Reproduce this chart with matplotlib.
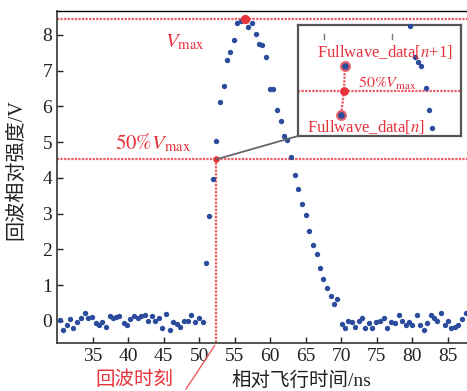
import numpy as np
import matplotlib
matplotlib.use("Agg")
import matplotlib.pyplot as plt
from matplotlib.patches import ConnectionPatch

plt.rcParams['font.family'] = ['Liberation Serif', 'Noto Sans CJK SC']
plt.rcParams['mathtext.fontset'] = 'stix'

#Sample times (ns) and echo voltage (V)
times = [30.41, 30.83, 31.35, 31.82, 32.29, 32.85, 33.31, 33.88, 34.34, 34.91,
         35.42, 35.89, 36.36, 36.92, 37.39, 37.90, 38.32, 38.79, 39.40, 39.87,
         40.34, 40.81, 41.37, 41.84, 42.35, 42.77, 43.38, 43.85, 44.32, 44.78,
         45.35, 45.86, 46.33, 46.89, 47.36, 47.82, 48.39, 48.90, 49.47, 49.93, 50.50,
         51.00, 51.43, 51.95, 52.40, 52.98, 53.44, 53.90, 54.38, 54.85, 55.40,
         55.87, 56.45, 56.95, 57.40, 57.97, 58.40, 58.85, 59.40, 60.00, 60.40,
         60.90, 61.50, 61.97, 62.43, 62.95, 63.50, 63.97, 64.44, 65.06, 65.50,
         66.00, 66.56, 67.00, 67.50, 68.05, 68.50, 69.00, 69.45,
         70.07, 70.53, 71.00, 71.56, 72.00, 72.50, 72.97, 73.40, 73.90, 74.40,
         74.90, 75.45, 76.00, 76.50, 76.95, 77.56, 78.10, 78.60, 79.10, 79.57,
         80.00, 80.60, 81.10, 81.60, 82.10, 82.57, 83.00, 83.50, 84.00, 84.60,
         85.00, 85.50, 85.97, 86.45, 87.00, 87.50]
volts = [0.03, -0.27, -0.11, 0.05, -0.20, -0.02, 0.07, 0.22, 0.07, 0.10,
         -0.07, -0.11, -0.03, -0.16, 0.14, 0.07, 0.12, 0.14, -0.07, -0.11,
         0.04, 0.14, 0.07, 0.14, 0.17, 0.00, 0.14, 0.00, 0.07, -0.20,
         0.19, -0.27, -0.02, -0.09, -0.18, 0.00, 0.00, 0.17, -0.02, 0.07, -0.02,
         1.62, 2.94, 3.98, 5.04, 6.12, 6.56, 7.31, 7.53, 7.85, 8.34,
         8.39, 8.45, 8.22, 8.34, 8.03, 7.76, 7.73, 7.38, 6.50, 6.50,
         5.91, 5.58, 5.16, 5.05, 4.58, 4.09, 3.69, 3.27, 2.95, 2.50,
         2.13, 1.88, 1.47, 1.17, 0.92, 0.70, 0.48, 0.62,
         -0.09, -0.19, 0.00, -0.02, -0.16, 0.00, 0.07, -0.19, -0.07, -0.21,
         -0.04, 0.00, 0.07, -0.19, -0.02, -0.05, 0.17, 0.00, -0.11, -0.02,
         -0.11, 0.15, -0.11, -0.25, -0.05, 0.15, 0.07, 0.00, 0.23, -0.11,
         0.00, -0.19, -0.16, -0.11, 0.05, 0.23]

v_half = 4.52      #50% Vmax level
t_half = 52.42     #echo time

xticks = [35, 40, 45, 50, 55, 60, 65, 70, 75, 80, 85]
yticks = [0, 1, 2, 3, 4, 5, 6, 7, 8]

#Inset (magnified sketch), in its own 0-100 units
in_pts_x = [28.8, 26.4]          #Fullwave_data[n+1], Fullwave_data[n]
in_pts_y = [63.1, 18.9]
in_mid = (28.2, 40.5)            #interpolated 50% point
in_dots_x = [68.7, 71.8, 73.4, 75.5, 78.3, 80.6, 82.0]
in_dots_y = [99.0, 71.4, 66.9, 63.3, 43.5, 23.4, 7.5]
in_marks_x = [16.0, 57.7]

blue = '#2b4c9c'
red = '#e8323c'
redline = '#ee5a64'

W, H = 467, 391
fig = plt.figure(figsize=(W / 100, H / 100), dpi=100)
ax = fig.add_axes([57 / W, 1 - 343 / H, 410 / W, 332 / H])

t = np.array(times)
v = np.array(volts)
ipk = int(np.argmax(v))
vmax = v[ipk]

ax.scatter(t, v, s=15, color=blue, zorder=3, linewidths=0)
ax.scatter([t[ipk]], [vmax], s=45, color=red, zorder=4, linewidths=0)
ax.scatter([t_half], [v_half], s=22, color=red, zorder=4, linewidths=0)

dot = (0, (1, 0.6))
ax.axhline(vmax, color=redline, lw=1.6, ls=dot, zorder=2)
ax.axhline(v_half, color=redline, lw=1.6, ls=dot, zorder=2)
ax.plot([t_half, t_half], [v_half, -0.62], color=redline, lw=1.6, ls=dot, zorder=2)

ax.set_xlim(30.0, 87.7)
ax.set_ylim(-0.62, 8.67)
ax.set_xticks(xticks)
ax.set_yticks(yticks)
ax.tick_params(direction='in', length=4, width=1, labelsize=14, colors='#222222')
ax.spines['right'].set_visible(False)
for s in ['left', 'bottom']:
    ax.spines[s].set_linewidth(1.3)
    ax.spines[s].set_color('#444444')
ax.spines['top'].set_linewidth(1.0)

ax.text(45.2, 7.65, r'$V_{\rm max}$', color=red, fontsize=15, va='baseline')
ax.text(38.1, 4.79, r'$50\%V_{\rm max}$', color=red, fontsize=15, va='baseline')

#pointer from label to echo time
ax.annotate('', xy=(t_half, -0.62), xytext=(-23, -35), textcoords='offset points',
            arrowprops=dict(arrowstyle='-', color=redline, lw=1.0), annotation_clip=False)

fig.text(134 / W, 1 - 380 / H, '回波时刻', color=red, fontsize=14, ha='center', va='center')
fig.text(301 / W, 1 - 380 / H, '相对飞行时间/ns', fontsize=14, ha='center', va='center',
         color='#222222')
fig.text(17 / W, 1 - 170 / H, '回波相对强度/V', fontsize=14.5, ha='center', va='center',
         rotation=90, color='#222222')

#inset
axi = fig.add_axes([298 / W, 1 - 136 / H, 163 / W, 111 / H])
axi.set_xlim(0, 100)
axi.set_ylim(0, 100)
axi.set_xticks([])
axi.set_yticks([])
for s in axi.spines.values():
    s.set_color('#555555')
    s.set_linewidth(1.6)
axi.axhline(in_mid[1], color=redline, lw=1.6, ls=dot)
axi.plot([in_pts_x[0], in_mid[0], in_pts_x[1]], [in_pts_y[0], in_mid[1], in_pts_y[1]],
         color=redline, lw=1.6, ls=dot)
axi.scatter(in_pts_x, in_pts_y, s=40, color=blue, edgecolors='#e8606a', linewidths=1.5, zorder=3)
axi.scatter([in_mid[0]], [in_mid[1]], s=40, color=red, linewidths=0, zorder=4)
axi.scatter(in_dots_x, in_dots_y, s=15, color=blue, linewidths=0, zorder=3, clip_on=False)
for mx in in_marks_x:
    axi.plot([mx, mx], [87, 92], color='#777777', lw=1)
axi.text(11.5, 71.4, 'Fullwave_data[$n$+1]', color=red, fontsize=12, va='baseline')
axi.text(36.8, 43.0, r'$50\%V_{\rm max}$', color=red, fontsize=11.5, va='baseline')
axi.text(5.3, 3.9, 'Fullwave_data[$n$]', color=red, fontsize=12, va='baseline')

con = ConnectionPatch(xyA=(t_half, v_half), coordsA=ax.transData,
                      xyB=(0, 0), coordsB=axi.transAxes, color='#666666', lw=1.3)
fig.add_artist(con)

fig.savefig('out.png', dpi=100)
